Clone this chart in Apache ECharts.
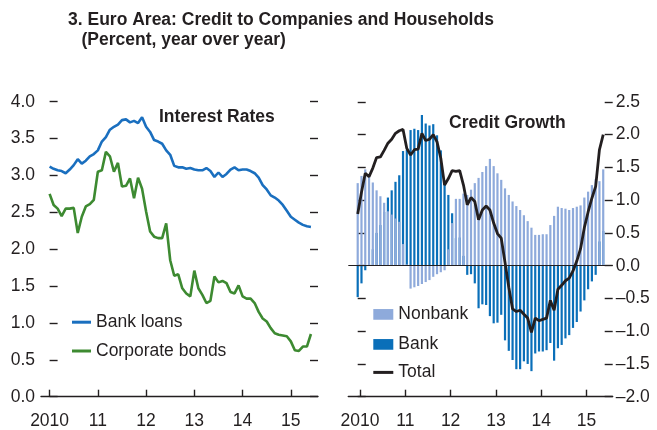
<!DOCTYPE html>
<html><head><meta charset="utf-8">
<script src="https://cdn.jsdelivr.net/npm/echarts@6/dist/echarts.min.js"></script>
<style>html,body{margin:0;padding:0;background:#fff}#c{width:657px;height:430px}</style>
</head><body><div id="c"></div>
<script>
// ---- data (monthly, Jan 2010 onward) ----
const yearLabels = ['2010', '11', '12', '13', '14', '15'];
const bankLoans = [3.12,3.09,3.07,3.06,3.03,3.08,3.14,3.22,3.16,3.20,
  3.26,3.29,3.34,3.46,3.52,3.62,3.66,3.69,3.75,3.76,
  3.72,3.74,3.71,3.79,3.66,3.59,3.48,3.46,3.43,3.34,
  3.28,3.13,3.11,3.11,3.09,3.10,3.08,3.07,3.07,3.10,
  3.06,2.98,3.04,2.98,3.02,3.08,3.11,3.07,3.08,3.08,
  3.06,3.03,2.97,2.87,2.81,2.73,2.70,2.66,2.60,2.52,
  2.44,2.40,2.36,2.33,2.31,2.30];
const corporateBonds = [2.75,2.60,2.55,2.45,2.55,2.55,2.56,2.22,2.44,2.58,
  2.61,2.67,3.05,3.07,3.32,3.26,3.05,3.17,2.85,2.86,
  2.96,2.69,2.97,2.82,2.51,2.24,2.17,2.15,2.15,2.35,
  1.85,1.64,1.66,1.47,1.40,1.36,1.71,1.47,1.38,1.27,
  1.30,1.63,1.55,1.57,1.54,1.42,1.40,1.51,1.36,1.33,
  1.33,1.27,1.15,1.06,1.02,0.93,0.86,0.84,0.83,0.82,
  0.75,0.63,0.62,0.68,0.68,0.85];
const bank = [-0.48,-0.27,-0.07,0.02,0.25,0.50,0.62,0.82,1.04,1.15,
  1.28,1.38,1.75,1.77,2.07,2.09,2.07,2.30,2.17,2.14,
  2.16,1.99,1.76,1.30,1.08,0.80,0.42,0.43,0.15,-0.14,
  -0.13,-0.27,-0.65,-0.59,-0.60,-0.77,-0.88,-0.87,-0.75,-1.14,
  -1.30,-1.44,-1.58,-1.58,-1.46,-1.50,-1.61,-1.34,-1.31,-1.31,
  -1.29,-1.18,-1.45,-1.26,-1.21,-1.11,-1.06,-0.95,-0.86,-0.70,
  -0.53,-0.36,-0.24,-0.14,0.37,0.53];
const nonbank = [1.26,1.37,1.47,1.36,1.27,1.15,1.06,0.96,0.83,0.78,
  0.72,0.67,0.33,0.02,-0.35,-0.33,-0.31,-0.28,-0.25,-0.22,
  -0.17,-0.13,-0.10,-0.07,0.25,0.65,1.02,1.02,1.10,1.08,
  1.16,1.26,1.34,1.43,1.52,1.63,1.52,1.41,1.31,1.18,
  1.08,0.98,0.91,0.85,0.77,0.68,0.58,0.47,0.47,0.48,
  0.48,0.62,0.76,0.90,0.88,0.87,0.85,0.88,0.90,0.92,
  1.04,1.13,1.23,1.32,1.29,1.47];
const total = [0.79,1.12,1.41,1.36,1.49,1.65,1.66,1.76,1.87,1.93,
  2.02,2.06,2.08,1.79,1.69,1.77,1.78,2.02,1.91,1.93,
  2.00,1.89,1.64,1.23,1.33,1.45,1.44,1.45,1.23,0.93,
  1.04,0.98,0.70,0.85,0.91,0.85,0.65,0.49,0.42,0.05,
  -0.33,-0.66,-0.70,-0.68,-0.74,-0.80,-1.02,-0.80,-0.84,-0.82,
  -0.80,-0.53,-0.68,-0.36,-0.30,-0.23,-0.19,-0.08,0.07,0.26,
  0.58,0.82,1.03,1.21,1.77,2.00];

// ---- styling ----
const FONT = "'Liberation Sans Narrow','Arial Narrow','Liberation Sans',Arial,sans-serif";
const TXT = '#231f20';
const BLUE = '#1a6fbf', GREEN = '#3d8a31', LIGHT = '#8eaadb', DARK = '#0a6fb9';
const FS = 17.5;

const pairs = arr => arr.map((v, i) => [i, v]);
const leftTicks = yearLabels.map((_, k) => 12 * k);
const rightTicks = yearLabels.map((_, k) => 0.6 + 12 * k);

const tickStyle = {color: TXT, width: 1.4};
function xAxisDef(grid, min, max, ticks, off) {
  return {
    gridIndex: grid, type: 'value', min: min, max: max,
    splitLine: {show: false},
    axisLine: {show: true, onZero: false, lineStyle: {color: TXT, width: 1.4}},
    axisTick: {show: true, inside: true, length: 7, customValues: ticks, lineStyle: tickStyle},
    axisLabel: {show: true, customValues: ticks, margin: 15.5, fontSize: FS, lineHeight: FS,
      fontFamily: FONT, color: TXT,
      formatter: v => yearLabels[Math.round((v - off) / 12)]}
  };
}
function yAxisDef(grid, pos, min, max, showLabel, margin, fmt) {
  return {
    gridIndex: grid, type: 'value', position: pos, min: min, max: max, interval: 0.5,
    splitLine: {show: false},
    axisLine: {show: false},
    axisTick: {show: true, inside: true, length: 8, lineStyle: tickStyle},
    axisLabel: {show: showLabel, margin: margin, fontSize: FS, lineHeight: FS, padding: [4.5, 0, 0, 0],
      fontFamily: FONT, color: TXT, formatter: fmt}
  };
}
const fmtL = v => v.toFixed(1);
const fmtR = v => (v < 0 ? '\u2013' : '') + Math.abs(v).toFixed(1);
const titleStyle = {fontSize: FS, fontWeight: 'bold', fontFamily: FONT, color: TXT, lineHeight: FS};
const legendText = {fontSize: FS, lineHeight: FS, fontFamily: FONT, color: TXT};

const chart = echarts.init(document.getElementById('c'), null, {renderer: 'canvas'});
chart.setOption({
  animation: false,
  backgroundColor: '#fff',
  title: [
    {text: '3. Euro Area: Credit to Companies and Households', left: 68, top: 11.4, padding: 0, textStyle: titleStyle},
    {text: '(Percent, year over year)', left: 81.5, top: 31.8, padding: 0, textStyle: titleStyle},
    {text: 'Interest Rates', left: 159, top: 108.5, padding: 0, textStyle: titleStyle},
    {text: 'Credit Growth', left: 449, top: 114.3, padding: 0, textStyle: titleStyle}
  ],
  grid: [
    {left: 41, top: 101.7, width: 277, height: 295, outerBoundsMode: 'none'},
    {left: 348.3, top: 101.9, width: 264.4, height: 294.8, outerBoundsMode: 'none'}
  ],
  xAxis: [
    xAxisDef(0, -2.14, 66.76, leftTicks, 0),
    xAxisDef(1, -2.49, 67.51, rightTicks, 0.6)
  ],
  yAxis: [
    yAxisDef(0, 'left', 0, 4, true, 6, fmtL),
    yAxisDef(0, 'right', 0, 4, false, 6, fmtL),
    yAxisDef(1, 'left', -2, 2.5, false, 3, fmtR),
    yAxisDef(1, 'right', -2, 2.5, true, 3, fmtR)
  ],
  legend: [
    {data: ['Bank loans', 'Corporate bonds'], orient: 'vertical', left: 72, top: 313.2, padding: 0,
      itemWidth: 19, itemHeight: 3, itemGap: 10.8, icon: 'rect', textStyle: legendText},
    {data: ['Nonbank', 'Bank'], orient: 'vertical', left: 373.3, top: 305.4, padding: 0,
      itemWidth: 20, itemHeight: 10.7, itemGap: 12, icon: 'rect', textStyle: legendText},
    {data: ['Total'], orient: 'vertical', left: 373.3, top: 363.4, padding: 0,
      itemWidth: 20, itemHeight: 3, icon: 'rect', textStyle: legendText}
  ],
  series: [
    {name: 'Bank loans', type: 'line', xAxisIndex: 0, yAxisIndex: 0, data: pairs(bankLoans),
      showSymbol: false, symbol: 'none', color: BLUE, lineStyle: {width: 2.6, color: BLUE}},
    {name: 'Corporate bonds', type: 'line', xAxisIndex: 0, yAxisIndex: 0, data: pairs(corporateBonds),
      showSymbol: false, symbol: 'none', color: GREEN, lineStyle: {width: 2.6, color: GREEN}},
    {name: 'Bank', type: 'bar', xAxisIndex: 1, yAxisIndex: 3, stack: 'credit', data: pairs(bank),
      barWidth: 2.2, color: DARK, itemStyle: {color: DARK},
      markLine: {silent: true, symbol: 'none', label: {show: false},
        lineStyle: {color: TXT, width: 1, type: 'solid'}, data: [{yAxis: 0}]}},
    {name: 'Nonbank', type: 'bar', xAxisIndex: 1, yAxisIndex: 3, stack: 'credit', data: pairs(nonbank),
      barWidth: 2.2, color: LIGHT, itemStyle: {color: LIGHT}},
    {name: 'Total', type: 'line', xAxisIndex: 1, yAxisIndex: 3, data: pairs(total), z: 5,
      showSymbol: false, symbol: 'none', color: TXT, lineStyle: {width: 2.8, color: TXT}}
  ]
});
</script></body></html>
